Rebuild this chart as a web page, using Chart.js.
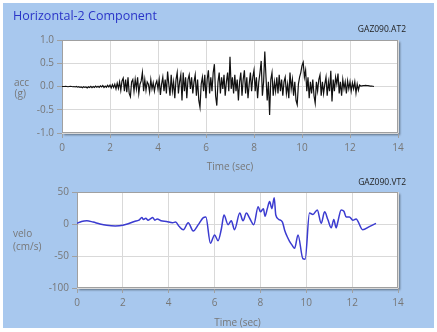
<!DOCTYPE html>
<html>
<head>
<meta charset="utf-8">
<script src="https://cdn.jsdelivr.net/npm/chart.js@4.4.1/dist/chart.umd.min.js"></script>
<style>
  body { margin: 0; background: #fff; }
  #panel { position: absolute; left: 3px; top: 3px; width: 431px; height: 325px; background: #a8c8ee; }
  canvas { position: absolute; left: 0; }
  .lbl { position: absolute; font-family: 'Open Sans', sans-serif; white-space: nowrap; }
</style>
</head>
<body>
<div id="panel"></div>
<canvas id="chartAcc" width="437" height="174" style="top:0"></canvas>
<canvas id="chartVelo" width="437" height="158" style="top:174px"></canvas>

<div class="lbl" style="left:13px; top:8px; font-size:12.5px; line-height:16px; color:#2a35c8;">Horizontal-2 Component</div>
<div class="lbl" style="right:31px; top:24px; font-size:8.5px; line-height:10px; color:#222;">GAZ090.AT2</div>
<div class="lbl" style="right:31px; top:177px; font-size:8.5px; line-height:10px; color:#222;">GAZ090.VT2</div>
<div class="lbl" style="left:14px; top:76px; font-size:10px; line-height:12px; color:#777;">acc</div>
<div class="lbl" style="left:14.5px; top:87px; font-size:10px; line-height:12px; color:#777;">(g)</div>
<div class="lbl" style="left:13px; top:227px; font-size:10px; line-height:12px; color:#777;">velo</div>
<div class="lbl" style="left:13px; top:240px; font-size:10px; line-height:12px; color:#777;">(cm/s)</div>

<script>
// tiempo (s) y ticks
const timeTicks = [0, 2, 4, 6, 8, 10, 12, 14];
const accTicks = [-1.0, -0.5, 0.0, 0.5, 1.0];
const veloTicks = [-100, -50, 0, 50];

// aceleracion (g), una muestra cada 0.05 s, una fila por segundo
const accStep = 0.05;
const accValues = [
  0, 0, 0, 0.005, 0, -0.005, 0, 0.005, 0, -0.005, 0, -0.01, 0, -0.015, -0.005, -0.02, -0.01, -0.025, -0.005, -0.02,
  -0.01, -0.03, -0.005, -0.02, 0.005, -0.025, 0, -0.02, 0.01, -0.015, 0.005, -0.02, 0.015, -0.01, 0.02, -0.02, 0.01, -0.015, 0.025, -0.01,
  0.03, -0.03, 0.04, -0.02, 0.05, -0.05, 0.07, -0.04, 0.1, -0.08, 0.12, 0.18, -0.1, 0.15, -0.12, 0.2, -0.15, -0.22, 0.1, 0.15,
  -0.1, 0.15, -0.05, 0.2, -0.15, 0.05, 0.12, 0.3, -0.1, 0.15, -0.08, 0.1, 0.05, -0.12, 0.15, -0.05, 0.08, -0.1, 0.05, 0.12,
  -0.05, 0.15, -0.18, 0.05, 0.2, -0.1, 0.15, -0.15, 0.32, 0.05, -0.2, 0.25, -0.1, 0.1, -0.25, 0.15, 0.3, -0.15, 0.1, 0.25,
  -0.3, 0.3, -0.1, 0.2, -0.25, 0.15, 0.25, -0.05, 0.2, -0.15, 0.1, 0.25, -0.2, 0.15, -0.3, -0.45, 0.05, 0.2, -0.1, 0.25,
  -0.25, 0.15, 0.35, -0.15, 0.2, -0.1, 0.3, 0.48, -0.2, -0.41, 0.1, 0.3, -0.15, 0.2, -0.05, 0.25, -0.2, 0.1, 0.3, -0.1,
  0.64, -0.05, 0.2, -0.15, 0.25, -0.1, 0.15, -0.3, 0.1, 0.3, -0.2, 0.15, 0.35, -0.15, 0.2, -0.25, 0.05, 0.3, -0.1, 0.2,
  0.35, -0.1, 0.2, -0.25, 0.1, 0.3, 0.55, -0.2, 0.1, 0.75, 0.2, -0.3, 0.1, -0.61, 0.15, 0.3, -0.2, 0.1, -0.1, 0.2,
  -0.15, 0.25, -0.1, 0.15, -0.2, 0.1, 0.2, -0.15, 0.05, -0.25, 0.3, -0.05, 0.15, -0.2, 0.1, -0.3, -0.39, 0.05, 0.2, 0.3,
  0.45, 0.52, 0.2, 0.35, -0.1, 0.2, -0.25, 0.1, -0.15, 0.15, -0.2, -0.36, 0.1, -0.1, 0.15, 0.25, -0.2, 0.1, -0.15, 0.05,
  0.2, -0.2, 0.1, -0.1, 0.34, -0.32, 0.15, -0.1, 0.2, 0.05, 0.28, -0.15, 0.1, -0.2, 0.15, -0.05, 0.1, -0.15, 0.12, -0.05,
  0.1, -0.1, 0.08, -0.05, 0.1, -0.14, 0.05, -0.08, 0.03, 0.01, 0.015, 0.02, 0.02, 0.025, 0.02, 0.02, 0.015, 0.01, 0.01, 0.005, 0
];

// velocidad (cm/s)
const veloTime = [0, 0.2, 0.43, 0.7, 1.0, 1.3, 1.67, 2.0, 2.2, 2.5, 2.7, 2.83, 2.9, 3.0, 3.1, 3.2, 3.3, 3.4, 3.5, 3.67,
  3.9, 4.17, 4.3, 4.46, 4.64, 4.85, 5.07, 5.29, 5.51, 5.62, 5.82, 6.0, 6.15, 6.3, 6.41, 6.59, 6.73, 6.87, 7.1, 7.24,
  7.39, 7.53, 7.71, 7.9, 8.0, 8.13, 8.2, 8.3, 8.4, 8.5, 8.6, 8.67, 8.81, 8.96, 9.06, 9.17, 9.27, 9.38, 9.49, 9.64,
  9.85, 9.95, 10.14, 10.29, 10.48, 10.65, 10.8, 10.94, 11.09, 11.2, 11.3, 11.38, 11.52, 11.64, 11.74, 11.88, 12.03, 12.17, 12.46, 12.75,
  13.04];
const veloValues = [1, 4, 5, 3, 0, -2, -3, -2, 0, 4, 6, 10, 7, 9, 6, 8, 10, 6, 8, 5,
  4, 2, 3, -4, -9, 2, -11, -1, 10, 11, -30, -17, -26, -7, 14, -1, 5, -9, 17, 5,
  17, 9, -1, 27, 19, 24, 12, 24, 35, 24, 41, 14, 7, 3, -10, -20, -27, -33, -38, -17,
  -54, -55, 17, 15, 22, 1, 19, 7, -6, 7, -6, 4, 22, 20, 11, 11, 6, 8, -9, -4,
  1];

Chart.defaults.font.family = "'Open Sans', sans-serif";
Chart.defaults.font.size = 10;
Chart.defaults.color = '#777';

// fondo blanco con sombra y marco gris
const marcoPlugin = {
  id: 'marco',
  beforeDraw(chart) {
    const { ctx, chartArea: a } = chart;
    ctx.save();
    ctx.shadowColor = 'rgba(0,0,0,0.45)';
    ctx.shadowOffsetX = 2;
    ctx.shadowOffsetY = 2;
    ctx.shadowBlur = 2;
    ctx.fillStyle = '#fff';
    ctx.fillRect(a.left, a.top, a.width, a.height);
    ctx.restore();
  },
  beforeDatasetsDraw(chart) {
    const { ctx, chartArea: a } = chart;
    ctx.save();
    ctx.strokeStyle = '#a0a0a0';
    ctx.lineWidth = 1;
    ctx.strokeRect(a.left + 0.5, a.top + 0.5, a.width - 1, a.height - 1);
    ctx.restore();
  }
};

function makeOptions(yTicks, yWidth, xHeight, padding, decimals) {
  return {
    responsive: false,
    animation: false,
    devicePixelRatio: 1,
    layout: { padding: padding },
    plugins: { legend: { display: false }, tooltip: { enabled: false } },
    scales: {
      x: {
        type: 'linear',
        min: 0,
        max: 14,
        afterBuildTicks: s => { s.ticks = timeTicks.map(v => ({ value: v })); },
        afterFit: s => { s.height = xHeight; },
        ticks: { padding: 4, maxRotation: 0 },
        grid: { color: '#d9d9d9', tickColor: '#a0a0a0', tickLength: 5 },
        border: { display: false },
        title: { display: true, text: 'Time (sec)', padding: 0, color: '#777' }
      },
      y: {
        min: yTicks[0],
        max: yTicks[yTicks.length - 1],
        afterBuildTicks: s => { s.ticks = yTicks.map(v => ({ value: v })); },
        afterFit: s => { s.width = yWidth; },
        ticks: { padding: 3, callback: v => Number(v).toFixed(decimals) },
        grid: { color: '#d9d9d9', tickColor: '#a0a0a0', tickLength: 5 },
        border: { display: false }
      }
    }
  };
}

const accData = accValues.map((v, i) => ({ x: +(i * accStep).toFixed(2), y: v }));
const veloData = veloTime.map((t, i) => ({ x: t, y: veloValues[i] }));

const chartAcc = new Chart(document.getElementById('chartAcc').getContext('2d'), {
  type: 'line',
  data: {
    datasets: [{
      data: accData,
      borderColor: '#111',
      borderWidth: 1.2,
      pointRadius: 0,
      tension: 0
    }]
  },
  options: makeOptions(accTicks, 62, 40, { left: 0, right: 39, top: 40, bottom: 1 }, 1),
  plugins: [marcoPlugin]
});

const chartVelo = new Chart(document.getElementById('chartVelo').getContext('2d'), {
  type: 'line',
  data: {
    datasets: [{
      data: veloData,
      borderColor: '#3b3bd0',
      borderWidth: 1.5,
      pointRadius: 0,
      cubicInterpolationMode: 'monotone'
    }]
  },
  options: makeOptions(veloTicks, 77, 41, { left: 0, right: 39, top: 18, bottom: 3 }, 0),
  plugins: [marcoPlugin]
});
</script>
</body>
</html>
